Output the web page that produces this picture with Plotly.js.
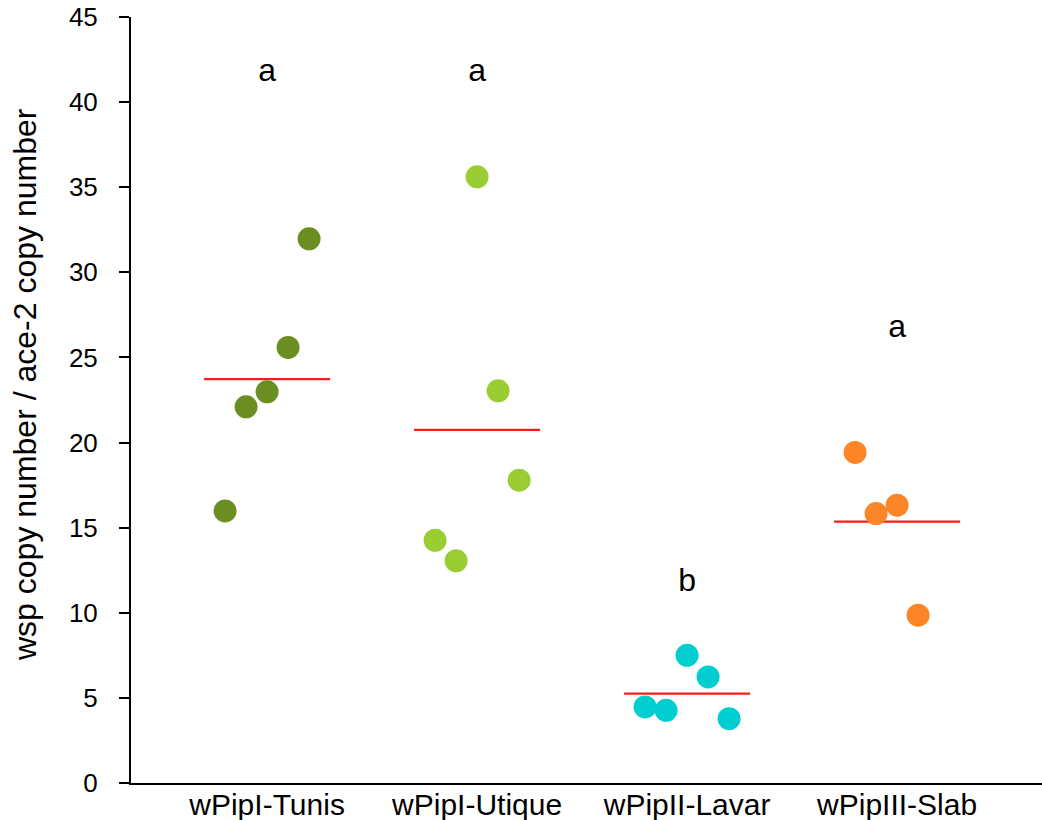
<!DOCTYPE html>
<html>
<head>
<meta charset="utf-8">
<script src="https://cdn.plot.ly/plotly-3.0.1.min.js"></script>
<style>html,body{margin:0;padding:0;background:#fff}#chart{width:1042px;height:820px}</style>
</head>
<body>
<div id="chart"></div>
<script>
// ---- data ----
const categories = ["wPipI-Tunis", "wPipI-Utique", "wPipII-Lavar", "wPipIII-Slab"];
const tunisValues  = [15.98, 22.10, 22.98, 25.59, 31.97];
const utiqueValues = [14.26, 13.05, 35.61, 23.04, 17.79];
const lavarValues  = [4.47, 4.27, 7.50, 6.23, 3.78];
const slabValues   = [19.42, 15.83, 16.32, 9.86];
const groupColors  = ["#6b8e23", "#9acd32", "#00ced1", "#fc8527"];
const letters      = ["a", "a", "b", "a"];
const letterY      = [41.7, 41.7, 11.75, 26.7];
const yTickVals    = [0, 5, 10, 15, 20, 25, 30, 35, 40, 45];
const yTitle       = "wsp copy number / ace-2 copy number";

const groups = [tunisValues, utiqueValues, lavarValues, slabValues];
const traces = [];

// mean lines (drawn first, under points)
groups.forEach((vals, gi) => {
  const mean = vals.reduce((a, b) => a + b, 0) / vals.length;
  traces.push({
    x: [gi - 0.3, gi + 0.3], y: [mean, mean],
    mode: "lines", line: {color: "#ff1a1a", width: 2.2},
    hoverinfo: "skip", showlegend: false
  });
});

// points, spread horizontally in order of observation
groups.forEach((vals, gi) => {
  traces.push({
    x: vals.map((v, j) => gi + (j - 2) * 0.1),
    y: vals,
    mode: "markers",
    marker: {color: groupColors[gi], size: 23, line: {width: 0}},
    showlegend: false
  });
});

// significance letters
traces.push({
  x: categories.map((c, i) => i), y: letterY, text: letters,
  mode: "text", textposition: "middle center",
  textfont: {family: "Liberation Sans, Arial, sans-serif", size: 32, color: "#000"},
  showlegend: false, hoverinfo: "skip"
});

const layout = {
  width: 1042, height: 820,
  margin: {l: 131, r: 0, t: 17, b: 37},
  paper_bgcolor: "#fff", plot_bgcolor: "#fff",
  font: {family: "Liberation Sans, Arial, sans-serif", color: "#000"},
  showlegend: false,
  xaxis: {
    range: [-0.648, 3.69],
    tickvals: [0, 1, 2, 3], ticktext: categories,
    showgrid: false, zeroline: false,
    showline: true, linecolor: "#000", linewidth: 2,
    ticks: "", tickfont: {size: 30, color: "#000"},
    ticklabelstandoff: -6,
    fixedrange: true
  },
  yaxis: {
    range: [0, 45],
    tickvals: yTickVals,
    showgrid: false, zeroline: false,
    showline: true, linecolor: "#000", linewidth: 2,
    ticks: "outside", ticklen: 10, tickwidth: 2, tickcolor: "#000",
    tickfont: {size: 26, color: "#000"},
    ticklabelstandoff: 16,
    fixedrange: true
  },
  annotations: [{
    text: yTitle, textangle: -90,
    xref: "paper", yref: "paper", x: 0, y: 0.5196,
    xanchor: "center", yanchor: "middle", xshift: -106,
    showarrow: false,
    font: {family: "Liberation Sans, Arial, sans-serif", size: 32, color: "#000"}
  }]
};

Plotly.newPlot("chart", traces, layout, {displayModeBar: false, staticPlot: true});
</script>
</body>
</html>
